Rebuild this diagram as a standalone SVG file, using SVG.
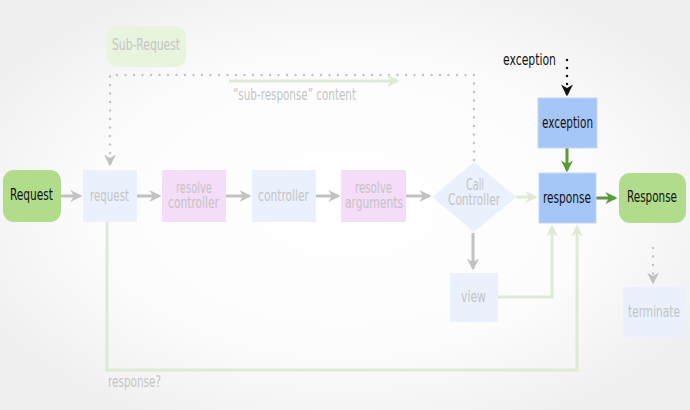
<svg xmlns="http://www.w3.org/2000/svg" width="690" height="410" viewBox="0 0 690 410">
<defs>
<radialGradient id="bg" cx="0.5" cy="0.5" r="0.6">
<stop offset="0" stop-color="#ffffff"/>
<stop offset="0.6" stop-color="#fcfcfc"/>
<stop offset="1" stop-color="#efefef"/>
</radialGradient>
<marker id="ag" viewBox="0 0 10 10" refX="8" refY="5" markerWidth="4" markerHeight="4" orient="auto" markerUnits="strokeWidth"><path d="M0,0 L10,5 L0,10 L3,5 z" fill="#c2c2c2"/></marker>
<marker id="alg" viewBox="0 0 10 10" refX="8" refY="5" markerWidth="4" markerHeight="4" orient="auto" markerUnits="strokeWidth"><path d="M0,0 L10,5 L0,10 L3,5 z" fill="#dcebd2"/></marker>
<marker id="adg" viewBox="0 0 10 10" refX="8" refY="5" markerWidth="4" markerHeight="4" orient="auto" markerUnits="strokeWidth"><path d="M0,0 L10,5 L0,10 L3,5 z" fill="#5a9a38"/></marker>
<marker id="ab" viewBox="0 0 10 10" refX="8" refY="5" markerWidth="4" markerHeight="4" orient="auto" markerUnits="strokeWidth"><path d="M0,0 L10,5 L0,10 L3,5 z" fill="#111"/></marker>
</defs>
<style>
text{font-family:"DejaVu Sans Condensed","DejaVu Sans",sans-serif;font-stretch:condensed;font-size:16px;text-anchor:middle}
.lt{fill:#c4c4c4}
.dk{fill:#111}
.pale{fill:#eaf1fc}
.pink{fill:#f5dcf8}
.blue{fill:#a6c6f8;stroke:#c2d7fa;stroke-width:1}
.grn{fill:#b0dc8c}
.gline{stroke:#c2c2c2;stroke-width:3;fill:none}
.lgline{stroke:#dcebd2;stroke-width:3;fill:none}
.dgline{stroke:#5a9a38;stroke-width:3;fill:none}
.dot{stroke:#c4c4c4;stroke-width:2.5;stroke-linecap:round;stroke-dasharray:0 8.5;fill:none}
.dotb{stroke:#111;stroke-width:2.5;stroke-linecap:round;stroke-dasharray:0 8;fill:none}
</style>
<rect width="690" height="410" fill="url(#bg)"/>

<g id="connectors">
<path class="dot" d="M474,160 V75 H110 V158"/>
<path class="gline" d="M110,158 v6" marker-end="url(#ag)"/>
<path class="lgline" d="M229,81 H397" marker-end="url(#alg)"/>
<path class="gline" d="M61,196 H80" marker-end="url(#ag)"/>
<path class="gline" d="M137,196 H159" marker-end="url(#ag)"/>
<path class="gline" d="M226,196 H249" marker-end="url(#ag)"/>
<path class="gline" d="M316,196 H338" marker-end="url(#ag)"/>
<path class="gline" d="M406,196 H429" marker-end="url(#ag)"/>
<path class="lgline" d="M516,197 H535" marker-end="url(#alg)"/>
<path class="gline" d="M473,233 V268" marker-end="url(#ag)"/>
<path class="lgline" d="M474,297 H552 V227" marker-end="url(#alg)"/>
<path class="lgline" d="M107,222 V370 H577 V227" marker-end="url(#alg)"/>
<path class="dgline" d="M567,148 V170" marker-end="url(#adg)"/>
<path class="dgline" d="M596,198 H615" marker-end="url(#adg)"/>
<path class="dotb" d="M567,60 V86"/>
<path d="M567,88 v6" stroke="#111" stroke-width="3" marker-end="url(#ab)"/>
<path class="dot" d="M653,248 V274"/>
<path class="gline" d="M653,276 v6" marker-end="url(#ag)"/>
</g>

<g id="sub-request"><rect x="107" y="26" width="79" height="41" rx="10" fill="#e9f4df"/><text class="lt" x="146" y="50" textLength="68" lengthAdjust="spacingAndGlyphs">Sub-Request</text></g>
<text class="lt" x="233" y="100" style="text-anchor:start" textLength="123" lengthAdjust="spacingAndGlyphs">“sub-response” content</text>

<g id="Request"><rect x="3" y="170" width="58" height="52" rx="11" class="grn"/><text class="dk" x="31.5" y="200" textLength="43" lengthAdjust="spacingAndGlyphs">Request</text></g>
<g id="request"><rect x="83" y="170" width="54" height="52" class="pale"/><text class="lt" x="109.5" y="201" textLength="39" lengthAdjust="spacingAndGlyphs">request</text></g>
<g id="resolve-controller"><rect x="162" y="170" width="64" height="52" class="pink"/><text class="lt" x="194" y="193" textLength="36" lengthAdjust="spacingAndGlyphs">resolve</text><text class="lt" x="193.5" y="208" textLength="51" lengthAdjust="spacingAndGlyphs">controller</text></g>
<g id="controller"><rect x="252" y="170" width="64" height="52" class="pale"/><text class="lt" x="283.5" y="201" textLength="51" lengthAdjust="spacingAndGlyphs">controller</text></g>
<g id="resolve-arguments"><rect x="341" y="170" width="65" height="52" class="pink"/><text class="lt" x="373.5" y="193" textLength="37" lengthAdjust="spacingAndGlyphs">resolve</text><text class="lt" x="374" y="208" textLength="58" lengthAdjust="spacingAndGlyphs">arguments</text></g>
<g id="call-controller"><polygon points="474,162 516,197 474,232 432,197" fill="#eaf1fc"/><text class="lt" x="475" y="190" textLength="18" lengthAdjust="spacingAndGlyphs">Call</text><text class="lt" x="474" y="205" textLength="52" lengthAdjust="spacingAndGlyphs">Controller</text></g>
<g id="view"><rect x="450" y="273" width="48" height="49" class="pale"/><text class="lt" x="473.5" y="302" textLength="25" lengthAdjust="spacingAndGlyphs">view</text></g>
<g id="exception"><text class="dk" x="529.5" y="65" textLength="53" lengthAdjust="spacingAndGlyphs">exception</text><rect x="538" y="98" width="59" height="50" class="blue"/><text class="dk" x="567.5" y="128" textLength="51" lengthAdjust="spacingAndGlyphs">exception</text></g>
<g id="response"><rect x="539" y="173" width="57" height="50" class="blue"/><text class="dk" x="567" y="203" textLength="48" lengthAdjust="spacingAndGlyphs">response</text></g>
<g id="Response"><rect x="619" y="173" width="67" height="50" rx="11" class="grn"/><text class="dk" x="652" y="202" textLength="50" lengthAdjust="spacingAndGlyphs">Response</text></g>
<g id="terminate"><rect x="623" y="287" width="63" height="50" class="pale"/><text class="lt" x="654" y="317" textLength="52" lengthAdjust="spacingAndGlyphs">terminate</text></g>
<text class="lt" x="108" y="387" style="text-anchor:start" textLength="53" lengthAdjust="spacingAndGlyphs">response?</text>
</svg>
